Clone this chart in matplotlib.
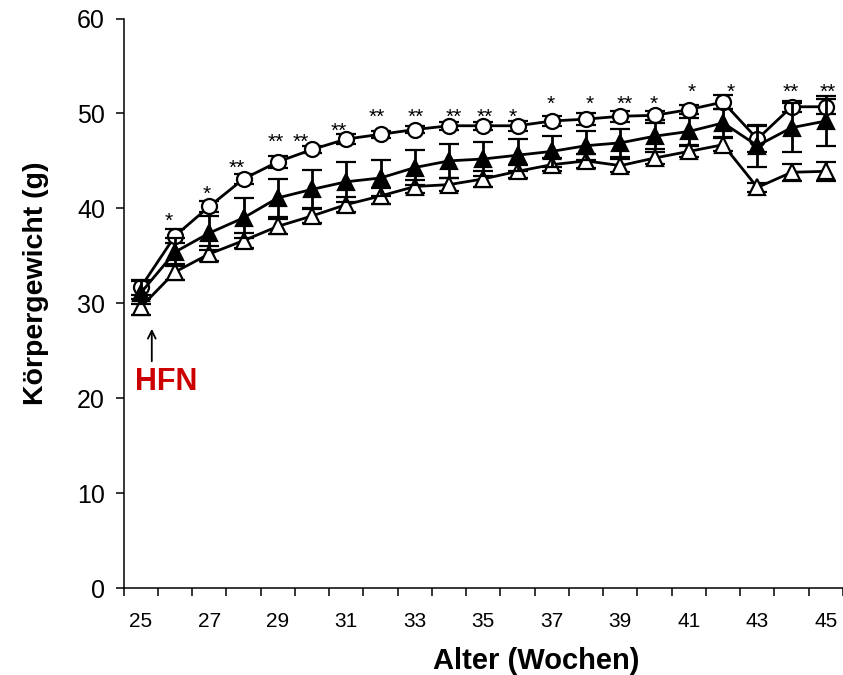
import matplotlib
matplotlib.use("Agg")
import matplotlib.pyplot as plt
import numpy as np

plt.rcParams['font.family'] = ['Liberation Sans', 'DejaVu Sans']

weeks = list(range(25, 46))
tick_labels = [str(w) for w in weeks[::2]]

# open circles (top series)
circ_mean = [31.7, 37.1, 40.2, 43.1, 44.9, 46.2, 47.3, 47.8, 48.3, 48.7, 48.7,
             48.7, 49.2, 49.4, 49.7, 49.8, 50.4, 51.2, 47.3, 50.7, 50.7]
circ_err = [0.8, 0.7, 0.6, 0.5, 0.6, 0.4, 0.5, 0.4, 0.4, 0.4, 0.4,
            0.5, 0.5, 0.6, 0.6, 0.5, 0.5, 0.7, 1.4, 0.6, 0.8]

# filled triangles (middle series)
fill_mean = [31.1, 35.4, 37.4, 39.0, 41.1, 42.0, 42.8, 43.2, 44.3, 45.0, 45.2,
             45.6, 46.0, 46.6, 46.9, 47.6, 48.1, 49.0, 46.6, 48.5, 49.2]
fill_err = [1.2, 1.5, 1.8, 2.1, 2.0, 2.0, 2.1, 1.9, 1.8, 1.8, 1.8,
            1.7, 1.6, 1.5, 1.5, 1.4, 1.4, 1.5, 2.2, 2.6, 2.6]

# open triangles (bottom series)
open_mean = [29.6, 33.3, 35.2, 36.6, 38.1, 39.2, 40.4, 41.3, 42.3, 42.5, 43.1,
             43.9, 44.6, 45.0, 44.5, 45.3, 46.0, 46.7, 42.2, 43.8, 43.9]
open_err = [0.8, 0.8, 0.8, 0.8, 0.8, 0.7, 0.8, 0.8, 0.7, 0.7, 0.8,
            0.7, 0.7, 0.7, 0.7, 0.6, 0.6, 0.7, 0.5, 0.9, 1.0]

# significance stars: week, label, star height (g)
star_weeks = [26, 27, 28, 29, 30, 31, 32, 33, 34, 35, 36, 37, 38, 39, 40, 41, 42, 44, 45]
star_text = ['*', '*', '**', '**', '**', '**', '**', '**', '**', '**', '*',
             '*', '*', '**', '*', '*', '*', '**', '**']
star_y = [39.3, 42.1, 44.9, 47.6, 47.6, 48.8, 50.3, 50.3, 50.3, 50.3, 50.3,
          51.6, 51.6, 51.6, 51.6, 52.9, 52.9, 52.9, 52.9]
star_shift = [-0.18, -0.07, -0.2, -0.06, -0.34, -0.21, -0.11, 0.02, 0.13, 0.04, -0.13,
              -0.02, 0.11, 0.14, -0.02, 0.09, 0.21, -0.04, 0.05]

fig = plt.figure(figsize=(8.43, 6.75), dpi=100)
W, H = 843, 675
x0, y0, y1 = 123.7, 588.0, 18.5
ax = fig.add_axes([x0 / W, 1 - y0 / H, 1 - x0 / W, (y0 - y1) / H])

xpos = np.arange(len(weeks))
lw = 2.0
common = dict(color='black', lw=lw, elinewidth=lw, capsize=7.5, capthick=lw,
              markeredgewidth=1.6, markeredgecolor='black')
ax.errorbar(xpos, circ_mean, yerr=circ_err, fmt='-o', ms=10.8,
            markerfacecolor='white', zorder=3, **common)
ax.errorbar(xpos, open_mean, yerr=open_err, fmt='-^', ms=12,
            markerfacecolor='white', zorder=4, **common)
ax.errorbar(xpos, fill_mean, yerr=fill_err, fmt='-^', ms=12,
            markerfacecolor='black', zorder=5, **common)

for w, s, y, dx in zip(star_weeks, star_text, star_y, star_shift):
    ax.annotate(s, (weeks.index(w) + dx, y), xytext=(0, -8.5), textcoords='offset points',
                ha='center', va='baseline', fontsize=15)

ax.set_ylim(0, 60)
ax.set_xlim(-0.5, -0.5 + (W - x0) / 34.7)
ax.set_yticks(range(0, 61, 10))
ax.set_xticks(xpos[::2])
ax.set_xticklabels(tick_labels)
ax.set_xticks(np.arange(-0.5, 21, 1.0), minor=True)
ax.tick_params(axis='x', which='major', length=0, pad=17, labelsize=15)
ax.tick_params(axis='x', which='minor', length=5.5, width=1.1, direction='out')
ax.tick_params(axis='y', length=5.5, width=1.1, pad=8, labelsize=18)
for side in ('top', 'right'):
    ax.spines[side].set_visible(False)
for side in ('left', 'bottom'):
    ax.spines[side].set_linewidth(1.1)

ax.set_ylabel('Körpergewicht (g)', fontsize=20.5, fontweight='bold', labelpad=20)
ax.set_xlabel('Alter (Wochen)', fontsize=21, fontweight='bold', labelpad=12)
ax.yaxis.label.set_y((y0 - 283) / (y0 - y1))
ax.xaxis.label.set_x((536.7 - x0) / (W - x0))

ax.text(-0.17, 20.9, 'HFN', color='#cc0000', fontsize=22, fontweight='bold',
        ha='left', va='baseline')
ax.annotate('', xy=(0.32, 27.6), xytext=(0.32, 23.6),
            arrowprops=dict(arrowstyle='->', lw=1.3, color='black', mutation_scale=14))

fig.savefig('out.png', dpi=100)
